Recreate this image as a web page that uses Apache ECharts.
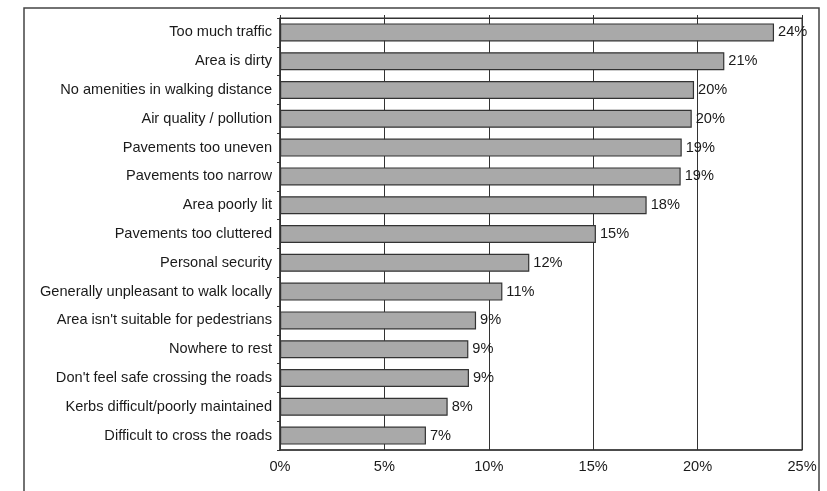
<!DOCTYPE html>
<html>
<head>
<meta charset="utf-8">
<script src="https://cdn.jsdelivr.net/npm/echarts@6/dist/echarts.min.js"></script>
<style>
  html, body { margin: 0; padding: 0; background: #fff; }
  #chart { width: 827px; height: 491px; }
</style>
</head>
<body>
<div id="chart"></div>
<script>
// Reasons given for not walking more locally (share of respondents, %)
const categories = [
  'Too much traffic',
  'Area is dirty',
  'No amenities in walking distance',
  'Air quality / pollution',
  'Pavements too uneven',
  'Pavements too narrow',
  'Area poorly lit',
  'Pavements too cluttered',
  'Personal security',
  'Generally unpleasant to walk locally',
  "Area isn't suitable for pedestrians",
  'Nowhere to rest',
  "Don't feel safe crossing the roads",
  'Kerbs difficult/poorly maintained',
  'Difficult to cross the roads'
];
const shares = [23.66, 21.28, 19.83, 19.72, 19.24, 19.19, 17.56, 15.13, 11.94, 10.65, 9.39, 9.02, 9.05, 8.03, 6.99];
const xTicks = [0, 5, 10, 15, 20, 25];

const chart = echarts.init(document.getElementById('chart'));
const textColor = '#1a1a1a';
const lineColor = '#333';
const font = 'Liberation Sans, Arial, sans-serif';
const fontSize = 14.6;

chart.setOption({
  animation: false,
  backgroundColor: '#fff',
  textStyle: { fontFamily: font },
  graphic: [{
    type: 'rect',
    shape: { x: 24, y: 8, width: 795, height: 500 },
    style: { fill: 'none', stroke: '#444', lineWidth: 1.5 },
    silent: true
  }],
  grid: { left: 280, right: 25, top: 18, bottom: 41, show: true, borderColor: lineColor, borderWidth: 1 },
  xAxis: [{
    type: 'value',
    position: 'bottom',
    min: xTicks[0],
    max: xTicks[xTicks.length - 1],
    interval: xTicks[1] - xTicks[0],
    axisLine: { show: true, lineStyle: { color: lineColor, width: 1.5 } },
    axisTick: { show: false },
    axisLabel: { formatter: '{value}%', color: textColor, fontSize: fontSize, margin: 9, fontFamily: font },
    splitLine: { show: true, lineStyle: { color: lineColor, width: 1 } }
  }, {
    type: 'value',
    position: 'top',
    min: xTicks[0],
    max: xTicks[xTicks.length - 1],
    interval: xTicks[1] - xTicks[0],
    axisLine: { show: true, lineStyle: { color: lineColor, width: 1 } },
    axisTick: { show: true, inside: false, length: 3, lineStyle: { color: lineColor } },
    axisLabel: { show: false },
    splitLine: { show: false }
  }],
  yAxis: {
    type: 'category',
    data: categories,
    inverse: true,
    axisLine: { show: true, lineStyle: { color: lineColor, width: 1.5 } },
    axisTick: { show: true, length: 3, lineStyle: { color: lineColor } },
    axisLabel: { color: textColor, fontSize: fontSize, margin: 8, fontFamily: font }
  },
  series: [{
    type: 'bar',
    data: shares,
    barWidth: 18,
    itemStyle: { color: '#a9a9a9', borderColor: '#333', borderWidth: 1.2 },
    label: {
      show: true,
      position: 'right',
      distance: 4,
      color: textColor,
      fontSize: fontSize,
      fontFamily: font,
      formatter: p => Math.round(p.value) + '%'
    }
  }]
});
</script>
</body>
</html>
